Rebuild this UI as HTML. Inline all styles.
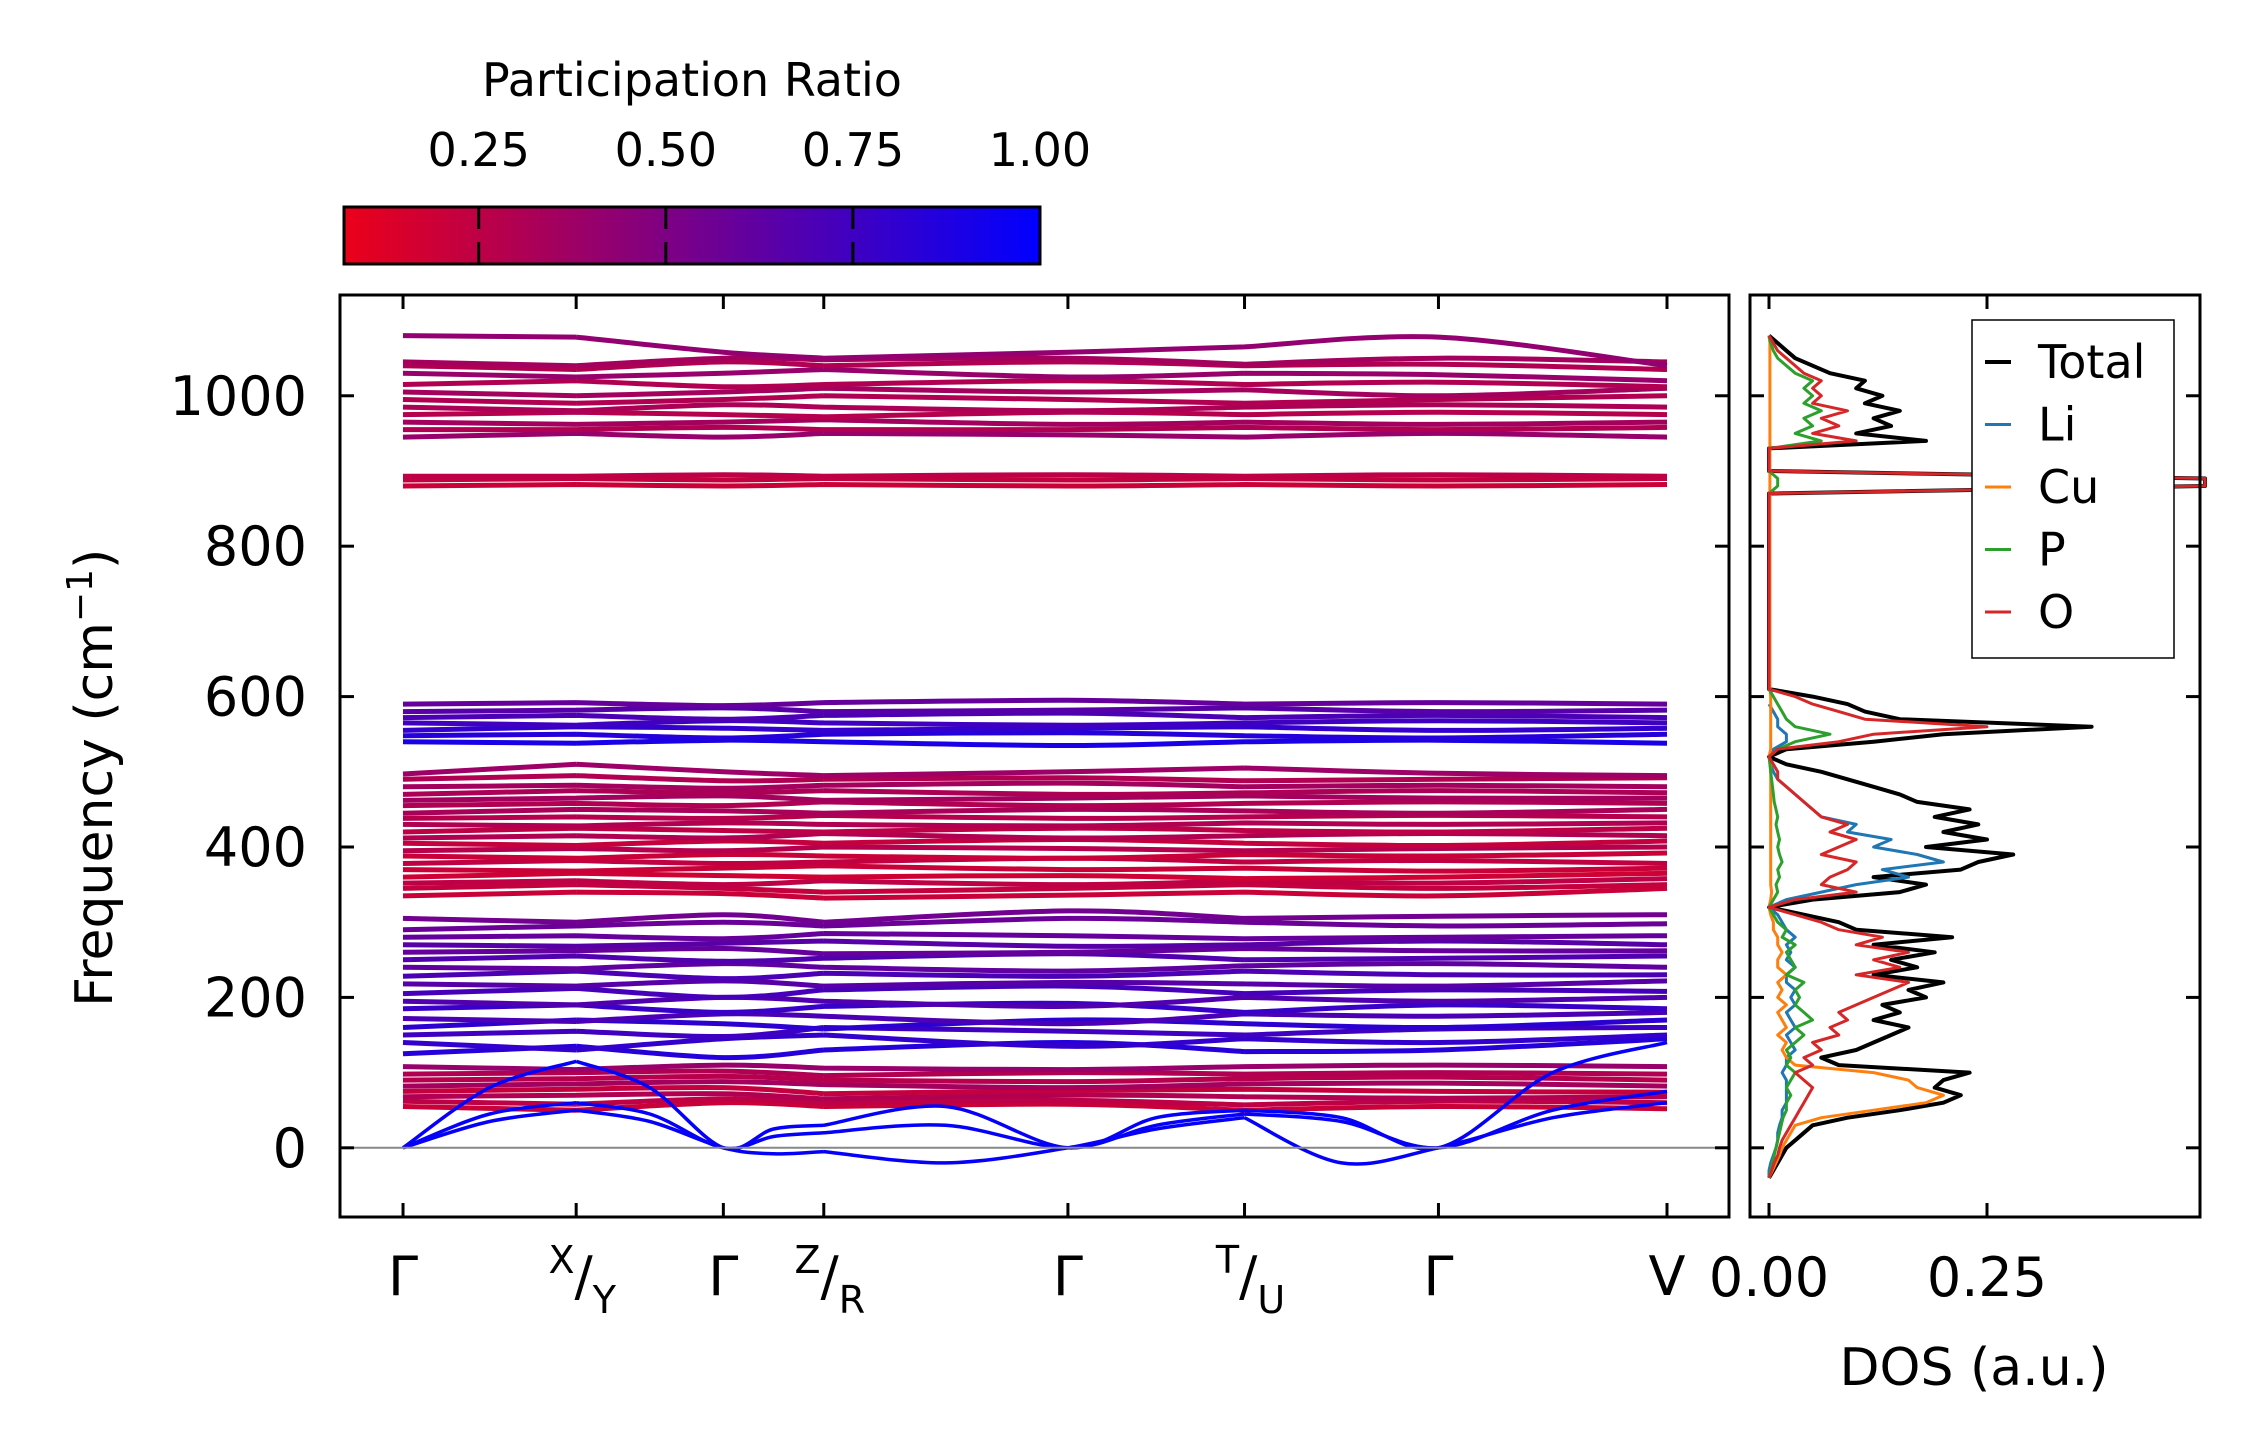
<!DOCTYPE html>
<html><head><meta charset="utf-8">
<style>
html,body{margin:0;padding:0;background:#fff;}
svg{display:block;}
text{font-family:"DejaVu Sans","Liberation Sans",sans-serif;fill:#000;}
</style></head>
<body>
<svg id="fig" width="2259" height="1455" viewBox="0 0 2259 1455" xmlns="http://www.w3.org/2000/svg"></svg>
<script>
// ---------- data ----------
const kLabels = ["Γ","X/Y","Γ","Z/R","Γ","T/U","Γ","V"];
const kPos = [0, 1.0, 1.85, 2.43, 3.84, 4.86, 5.98, 7.30];
const kPosFine = [0,0.5,1.0,1.425,1.85,2.14,2.43,3.135,3.84,4.35,4.86,5.42,5.98,6.64,7.30];
const yTicks = [0,200,400,600,800,1000];
const cbTicks = [0.25,0.5,0.75,1.0];
const dosTicks = [0, 0.25];
const bandAcoustic = [
 [0,80,115, 80,0, 25,30, 55,0, 40,50, 40,0, 100,140],
 [0,45,60, 45,0, 15,20, 30,0, 30,45, 35,0, 50,75],
 [0,35,50, 35,0, -8,-5, -20,0, 25,40, -20,0, 40,60]
];
const prAcoustic = [0.98,0.98,0.98];
const bandLow = [
 [55,50,60,55,58,50,55,52],[62,58,65,60,63,57,62,60],[68,70,72,65,70,68,66,68],
 [75,78,80,72,76,78,75,74],[82,85,88,84,80,85,86,82],[90,92,95,90,88,92,94,90],
 [98,100,102,96,100,98,100,98],[108,104,110,106,104,108,110,108]
];
const prLow = [0.2,0.25,0.3,0.22,0.35,0.28,0.3,0.4];
const bandMid = [
 [125,135,120,130,140,128,130,145],[140,130,145,150,135,145,140,150],[150,155,148,160,155,150,158,160],
 [160,170,165,158,170,165,160,170],[172,168,178,175,165,178,175,180],[185,190,180,188,192,180,190,185],
 [195,190,200,195,188,200,195,200],[205,212,200,210,215,205,210,208],[218,215,222,215,220,218,215,222],
 [228,235,225,232,228,235,230,230],[240,238,245,240,235,242,245,240],[250,255,248,252,258,250,252,255],
 [260,262,265,258,260,265,262,262],[270,268,272,275,268,270,275,270],[280,282,278,285,282,278,280,282],
 [290,295,300,295,305,300,295,298],[305,300,310,300,315,305,308,310]
];
const prMid = [0.85,0.8,0.75,0.82,0.7,0.78,0.68,0.72,0.65,0.7,0.62,0.68,0.6,0.65,0.6,0.58,0.55];
const bandHigh = [
 [335,340,338,332,336,340,335,345],[345,350,345,340,345,350,345,350],[352,355,350,355,350,355,352,358],
 [360,365,362,360,362,358,360,365],[370,368,372,375,370,372,368,372],[378,382,378,380,385,380,382,378],
 [388,385,390,388,385,390,388,392],[395,398,395,400,398,395,398,400],[405,402,408,405,410,405,402,408],
 [412,415,412,418,412,415,418,415],[420,425,422,420,425,422,420,425],[430,428,432,430,428,432,430,432],
 [438,440,438,442,438,440,442,440],[445,450,448,445,450,448,445,450],[455,458,455,460,455,458,460,458],
 [462,465,468,462,465,468,465,465],[470,475,472,475,470,472,475,472],[480,482,478,482,485,480,482,480],
 [490,495,488,490,492,488,490,492],[497,510,500,495,500,505,498,495]
];
const prHigh = [0.2,0.22,0.25,0.18,0.2,0.24,0.2,0.28,0.22,0.3,0.25,0.3,0.28,0.33,0.3,0.35,0.32,0.35,0.3,0.38];
const bandOpt = [
 [540,538,542,540,535,540,542,538],[548,550,545,550,552,548,545,550],[555,560,558,555,558,560,555,558],
 [565,562,568,565,562,565,568,565],[572,575,570,575,578,572,575,572],[580,582,585,580,582,585,580,582],
 [590,592,588,592,595,590,592,590]
];
const prOpt = [0.9,0.85,0.8,0.75,0.7,0.65,0.6];
const bandPO = [[880,882,880,882,880,882,880,882],[888,890,888,890,888,890,888,890],[893,893,895,893,895,893,895,893]];
const prPO = [0.2,0.22,0.25];
const bandTop = [
 [945,950,945,950,948,945,950,945],[955,955,958,955,955,958,955,958],[965,962,965,968,962,965,962,965],
 [975,978,975,972,978,975,978,975],[985,980,988,985,980,985,988,985],[995,990,995,1000,995,990,995,1000],
 [1005,1000,1005,1010,1005,1008,1000,1010],[1015,1020,1012,1015,1020,1015,1018,1012],[1030,1025,1030,1035,1025,1030,1028,1020],
 [1040,1035,1045,1040,1045,1040,1042,1035],[1045,1040,1050,1048,1050,1042,1050,1045],[1080,1078,1058,1050,1058,1065,1078,1040]
];
const prTop = [0.4,0.3,0.35,0.28,0.32,0.3,0.35,0.3,0.4,0.3,0.35,0.42];

// DOS on frequency grid from -40 step 10
const dosStart = -40, dosStep = 10;
const dosTotal = [0,0.005,0.01,0.015,
 0.02,0.03,0.04,0.05,0.09,0.15,0.2,0.22,0.19,0.2,
 0.23,0.08,0.06,0.1,0.12,0.14,0.16,0.12,0.15,0.13,
 0.18,0.16,0.2,0.12,0.17,0.14,0.19,0.12,0.21,0.1,
 0.08,0.04,0.0,0.05,0.15,0.18,0.12,0.22,0.24,0.28,
 0.18,0.25,0.2,0.24,0.19,0.23,0.17,0.15,0.12,0.09,
 0.06,0.02,0.0,0.02,0.12,0.2,0.37,0.15,0.11,0.09,
 0.05,0,0,0,0,0,0,0,0,0,
 0,0,0,0,0,0,0,0,0,0,
 0,0,0,0,0,0,0,0,0.5,0.5,
 0,0,0,0,0.18,0.1,0.14,0.12,0.15,0.11,
 0.13,0.1,0.11,0.07,0.05,0.03,0.02,0.01,0];
const dosO = [0,0.003,0.006,0.01,
 0.012,0.015,0.02,0.025,0.03,0.035,0.04,0.045,0.05,0.04,
 0.03,0.05,0.04,0.06,0.05,0.08,0.07,0.09,0.08,0.1,
 0.12,0.14,0.16,0.1,0.15,0.12,0.16,0.1,0.13,0.08,
 0.06,0.03,0,0.03,0.1,0.06,0.07,0.09,0.1,0.06,
 0.08,0.1,0.07,0.09,0.06,0.05,0.04,0.03,0.02,0.01,
 0.01,0.005,0,0.01,0.08,0.12,0.25,0.11,0.08,0.05,
 0.03,0,0,0,0,0,0,0,0,0,
 0,0,0,0,0,0,0,0,0,0,
 0,0,0,0,0,0,0,0,0.5,0.5,
 0,0,0,0,0.1,0.05,0.08,0.06,0.09,0.05,
 0.06,0.05,0.06,0.04,0.03,0.02,0.01,0.005,0];
const dosLi = [0,0,0.002,0.005,
 0.008,0.01,0.01,0.012,0.015,0.015,0.02,0.02,0.02,0.02,
 0.015,0.02,0.02,0.03,0.025,0.02,0.03,0.025,0.02,0.03,
 0.025,0.03,0.02,0.02,0.03,0.02,0.025,0.02,0.03,0.02,
 0.015,0.01,0,0.02,0.06,0.1,0.16,0.13,0.2,0.17,
 0.12,0.14,0.09,0.1,0.06,0.05,0.04,0.03,0.02,0.01,
 0.005,0.002,0,0.005,0.02,0.02,0.01,0.01,0.005,0];
const dosCu = [0,0.004,0.008,0.012,
 0.015,0.02,0.025,0.03,0.06,0.12,0.18,0.2,0.17,0.16,
 0.12,0.03,0.02,0.015,0.02,0.01,0.02,0.015,0.01,0.02,
 0.01,0.015,0.01,0.02,0.01,0.01,0.015,0.01,0.01,0.005,
 0.005,0.002,0,0.002,0.003,0.002,0.002,0.002,0.002,0.002,
 0.002,0.002,0.002,0.002,0.002,0.002,0.002,0.002,0.002,0.002,
 0.002,0.002,0,0.002,0.002,0.002,0.002,0.002,0.002,0.002,
 0.002,0.001,0.001,0.001,0.001,0.001,0.001,0.001,0.001,0.001,
 0.001,0.001,0.001,0.001,0.001,0.001,0.001,0.001,0.001,0.001,
 0.001,0.001,0.001,0.001,0.001,0.001,0.001,0.001,0.001,0.001,
 0.001,0.001,0.001,0.001,0.001,0.001,0.001,0.001,0.001,0.001,
 0.001,0.001,0.001,0.001,0.001,0.001,0.001,0.001,0];
const dosP = [0,0.002,0.004,0.006,
 0.008,0.01,0.012,0.014,0.016,0.02,0.02,0.025,0.02,0.025,
 0.03,0.02,0.025,0.02,0.03,0.04,0.03,0.05,0.04,0.03,
 0.035,0.03,0.04,0.02,0.03,0.025,0.02,0.03,0.015,0.02,
 0.01,0.005,0,0.005,0.01,0.008,0.012,0.01,0.015,0.012,
 0.01,0.012,0.01,0.008,0.01,0.008,0.006,0.005,0.004,0.003,
 0.002,0.001,0,0.01,0.03,0.07,0.03,0.02,0.015,0.01,
 0.005,0,0,0,0,0,0,0,0,0,
 0,0,0,0,0,0,0,0,0,0,
 0,0,0,0,0,0,0,0,0.01,0.01,
 0,0,0,0,0.06,0.03,0.05,0.04,0.06,0.04,
 0.05,0.04,0.05,0.03,0.02,0.01,0.005,0.002,0];
const legendNames = ["Total","Li","Cu","P","O"];

// ---------- layout ----------
const NS = "http://www.w3.org/2000/svg";
const svg = document.getElementById('fig');
const M = {l:340, r:1729, t:295, b:1217};
const D = {l:1750, r:2200, t:295, b:1217};
const yMin=-92, yMax=1134;
const kMin=-0.364, kMax=7.658;
const xK = k => M.l + (k-kMin)/(kMax-kMin)*(M.r-M.l);
const yF = f => M.b - (f-yMin)/(yMax-yMin)*(M.b-M.t);
const xD = v => 1769 + v/0.25*218;
function el(tag, attrs, parent){const e=document.createElementNS(NS,tag);for(const k in attrs)e.setAttribute(k,attrs[k]);(parent||svg).appendChild(e);return e;}
function prColor(p){let t=(p-0.07)/(1-0.07);t=Math.max(0,Math.min(1,t));
 const r=Math.round(235*(1-t)), g=0, b=Math.round(25+(255-25)*t);return `rgb(${r},${g},${b})`;}

// clip paths
const defs = el('defs',{});
const cp = el('clipPath',{id:'cm'},defs); el('rect',{x:M.l,y:M.t,width:M.r-M.l,height:M.b-M.t},cp);
const cp2 = el('clipPath',{id:'cd'},defs); el('rect',{x:D.l,y:D.t-2,width:D.r-D.l+12,height:D.b-D.t+4},cp2);
const grad = el('linearGradient',{id:'cbg',x1:'0',x2:'1',y1:'0',y2:'0'},defs);
el('stop',{offset:'0',"stop-color":prColor(0.07)},grad);
el('stop',{offset:'1',"stop-color":prColor(1)},grad);

// ---------- bands ----------
const gB = el('g',{'clip-path':'url(#cm)'});


function segPath(ks, vals){
 const pts = vals.map((v,i)=>[xK(ks[i]), yF(v)]);
 let d=`M${pts[0][0].toFixed(1)},${pts[0][1].toFixed(1)}`;
 for(let i=0;i<pts.length-1;i++){
  const p0=pts[Math.max(0,i-1)],p1=pts[i],p2=pts[i+1],p3=pts[Math.min(pts.length-1,i+2)];
  const c1=[p1[0]+(p2[0]-p0[0])/6,p1[1]+(p2[1]-p0[1])/6];
  const c2=[p2[0]-(p3[0]-p1[0])/6,p2[1]-(p3[1]-p1[1])/6];
  d+=` C${c1[0].toFixed(1)},${c1[1].toFixed(1)} ${c2[0].toFixed(1)},${c2[1].toFixed(1)} ${p2[0].toFixed(1)},${p2[1].toFixed(1)}`;
 }
 return d;
}
// segments between discontinuities
function bandPath(ks, vals, breaks){
 let d='', start=0;
 const ends=[...breaks, ks.length-1];
 ends.forEach(e=>{ d += segPath(ks.slice(start,e+1), vals.slice(start,e+1))+' '; start=e; });
 return d;
}
function drawGroup(bands, prs, name, ks, breaks, w){
 bands.forEach((b,i)=>{
  const p = el('path',{d:bandPath(ks,b,breaks),fill:'none',stroke:prColor(prs[i]),'stroke-width':w},gB);
  
  
 });
}
const br8=[1,3,5], br15=[2,6,10];
drawGroup(bandHigh, prHigh, 'high', kPos, br8, 5);
drawGroup(bandMid, prMid, 'mid', kPos, br8, 5);
drawGroup(bandLow, prLow, 'low', kPos, br8, 5);
drawGroup(bandOpt, prOpt, 'optic', kPos, br8, 5);
drawGroup(bandPO, prPO, 'po', kPos, br8, 5);
drawGroup(bandTop, prTop, 'top', kPos, br8, 5);
drawGroup(bandAcoustic, prAcoustic, 'acoustic', kPosFine, br15, 3.5);
// zero line
const zl = el('line',{x1:M.l,x2:M.r,y1:yF(0),y2:yF(0),stroke:'#888','stroke-width':2});



// main frame
const mf = el('rect',{x:M.l,y:M.t,width:M.r-M.l,height:M.b-M.t,fill:'none',stroke:'#000','stroke-width':3});


// y ticks
yTicks.forEach(v=>{
 const y=yF(v);
 el('line',{x1:M.l,x2:M.l+14,y1:y,y2:y,stroke:'#000','stroke-width':3});
 el('line',{x1:M.r-14,x2:M.r,y1:y,y2:y,stroke:'#000','stroke-width':3});
 el('line',{x1:D.l,x2:D.l+14,y1:y,y2:y,stroke:'#000','stroke-width':3});
 el('line',{x1:D.r-14,x2:D.r,y1:y,y2:y,stroke:'#000','stroke-width':3});
 const t=el('text',{x:M.l-33,y:y+19,'text-anchor':'end','font-size':54});
 t.textContent=v;
 
 
});
// k ticks & labels
kPos.forEach((k,i)=>{
 const x=xK(k);
 el('line',{x1:x,x2:x,y1:M.b-14,y2:M.b,stroke:'#000','stroke-width':3});
 el('line',{x1:x,x2:x,y1:M.t,y2:M.t+14,stroke:'#000','stroke-width':3});
 const lab=kLabels[i];
 const t=el('text',{x:x,y:1295,'text-anchor':'middle','font-size':54});
 if(lab.includes('/')){
  const [a,b]=lab.split('/');
  const s1=el('tspan',{'font-size':38,dy:-22},t); s1.textContent=a;
  const s2=el('tspan',{dy:22},t); s2.textContent='/';
  const s3=el('tspan',{'font-size':38,dy:18},t); s3.textContent=b;
  t.setAttribute('x',x+6);
 } else t.textContent=lab;
 
 
});
const yt=el('text',{x:0,y:0,'text-anchor':'middle','font-size':52,transform:`translate(112,${yF(500)+6}) rotate(-90)`});
yt.innerHTML='Frequency (cm<tspan font-size="36" dy="-20">−1</tspan><tspan dy="20">)</tspan>';



// ---------- DOS ----------
const gD = el('g',{'clip-path':'url(#cd)'});


function dosLine(arr,color,w,name){
 const pts=arr.map((v,i)=>`${xD(v).toFixed(1)},${yF(dosStart+i*dosStep).toFixed(1)}`).join(' ');
 const p=el('polyline',{points:pts,fill:'none',stroke:color,'stroke-width':w,'stroke-linejoin':'round'},gD);
 
 
}
dosLine(dosTotal,'#000',4,'dos-total');
dosLine(dosLi,'#1f77b4',3,'dos-li');
dosLine(dosCu,'#ff7f0e',3,'dos-cu');
dosLine(dosP,'#2ca02c',3,'dos-p');
dosLine(dosO,'#d62728',3,'dos-o');
const df=el('rect',{x:D.l,y:D.t,width:D.r-D.l,height:D.b-D.t,fill:'none',stroke:'#000','stroke-width':3});


dosTicks.forEach(v=>{
 const x=xD(v);
 el('line',{x1:x,x2:x,y1:D.b-14,y2:D.b,stroke:'#000','stroke-width':3});
 el('line',{x1:x,x2:x,y1:D.t,y2:D.t+14,stroke:'#000','stroke-width':3});
 const t=el('text',{x:x,y:1296,'text-anchor':'middle','font-size':54});
 t.textContent=v.toFixed(2);
 
 
});
const dt=el('text',{x:1974,y:1385,'text-anchor':'middle','font-size':52});
dt.textContent='DOS (a.u.)';



// legend
const lg=el('g',{});


el('rect',{x:1972,y:320,width:202,height:338,fill:'#fff',stroke:'#000','stroke-width':1.5},lg);
const lcolors=['#000','#1f77b4','#ff7f0e','#2ca02c','#d62728'];
legendNames.forEach((n,i)=>{
 const y=362+i*62.5;
 el('line',{x1:1985,x2:2011,y1:y,y2:y,stroke:lcolors[i],'stroke-width':i?3:4},lg);
 const t=el('text',{x:2038,y:y+16,'font-size':46},lg);
 t.textContent=n;
 
 
});

// ---------- colorbar ----------
const cb={l:344,r:1040,t:207,b:264};
const xC = v => cb.l + (v-0.07)/(1-0.07)*(cb.r-cb.l);
const cbr=el('rect',{x:cb.l,y:cb.t,width:cb.r-cb.l,height:cb.b-cb.t,fill:'url(#cbg)',stroke:'#000','stroke-width':3});


cbTicks.forEach(v=>{
 const x=xC(v);
 if(v<1){
  el('line',{x1:x,x2:x,y1:cb.t,y2:cb.t+22,stroke:'#000','stroke-width':3});
  el('line',{x1:x,x2:x,y1:cb.b-22,y2:cb.b,stroke:'#000','stroke-width':3});
 }
 const t=el('text',{x:x,y:166,'text-anchor':'middle','font-size':46});
 t.textContent=v.toFixed(2);
 
 
});
const ct=el('text',{x:692,y:96,'text-anchor':'middle','font-size':46});
ct.textContent='Participation Ratio';


</script>
</body></html>
